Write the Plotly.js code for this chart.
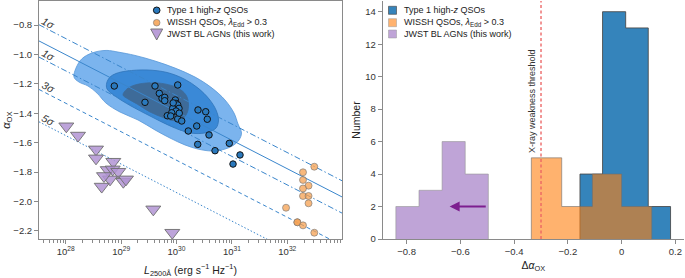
<!DOCTYPE html>
<html><head><meta charset="utf-8">
<script src="https://cdn.plot.ly/plotly-3.0.1.min.js"></script>
<style>html,body{margin:0;padding:0;background:#fff;}#chart{width:685px;height:278px;}</style>
</head><body><div id="chart"></div>
<script>
// ================= DATA =================
// Left panel: alpha_OX vs log L2500
const type1LogL = [28.877, 29.431, 29.612, 30.022, 29.690, 29.738, 29.787, 29.787, 29.978, 29.991, 29.960, 30.022, 30.045, 29.931, 29.991, 29.913, 29.834, 29.895, 30.022, 30.094, 30.388, 30.527, 30.556, 30.365, 30.213, 30.587, 30.383, 30.695, 30.953, 31.146, 31.020, 29.940, 30.050];
const type1Aox  = [-1.215, -1.326, -1.215, -1.208, -1.265, -1.299, -1.292, -1.315, -1.310, -1.333, -1.356, -1.344, -1.367, -1.367, -1.385, -1.397, -1.417, -1.419, -1.439, -1.453, -1.378, -1.390, -1.441, -1.487, -1.521, -1.548, -1.612, -1.655, -1.605, -1.684, -1.746, -1.330, -1.400];

const wisshLogL = [32.487, 32.283, 32.283, 32.383, 32.283, 32.283, 32.383, 32.383, 31.977, 32.181, 32.181, 32.283, 32.487];
const wisshAox  = [-1.764, -1.802, -1.854, -1.893, -1.912, -1.963, -1.963, -2.013, -2.043, -2.142, -2.142, -2.163, -2.213];

const jwstLogL = [28.011, 28.222, 28.547, 28.547, 28.859, 28.758, 28.848, 28.949, 28.800, 29.040, 29.088, 28.650, 29.581, 29.924, 28.691];
const jwstAox  = [-1.489, -1.552, -1.646, -1.707, -1.730, -1.786, -1.782, -1.798, -1.850, -1.866, -1.850, -1.899, -2.054, -2.213, -1.827];

// Density contours of the type 1 high-z QSO population (log L, alpha_OX)
const contourOuterLogL = [28.150, 28.222, 28.330, 28.529, 28.745, 28.944, 29.251, 29.612, 29.973, 30.334, 30.641, 30.875, 31.038, 31.110, 31.173, 31.128, 31.020, 30.875, 30.641, 30.388, 30.153, 29.883, 29.612, 29.305, 28.980, 28.727, 28.565, 28.403, 28.240];
const contourOuterAox  = [-1.154, -1.065, -1.018, -0.984, -0.973, -0.984, -1.007, -1.045, -1.093, -1.154, -1.229, -1.310, -1.399, -1.473, -1.535, -1.582, -1.620, -1.644, -1.657, -1.644, -1.616, -1.569, -1.514, -1.446, -1.392, -1.331, -1.263, -1.215, -1.188];
const contourMidLogL = [28.740, 28.800, 28.908, 29.106, 29.468, 29.829, 30.136, 30.388, 30.587, 30.713, 30.758, 30.713, 30.551, 30.334, 30.117, 29.846, 29.522, 29.179, 28.890, 28.746];
const contourMidAox  = [-1.195, -1.154, -1.130, -1.113, -1.106, -1.123, -1.167, -1.229, -1.303, -1.378, -1.446, -1.501, -1.531, -1.538, -1.521, -1.480, -1.419, -1.351, -1.283, -1.235];
const contourInnerLogL = [29.034, 29.106, 29.251, 29.522, 29.793, 30.027, 30.171, 30.217, 30.190, 30.094, 29.937, 29.756, 29.522, 29.287, 29.125];
const contourInnerAox  = [-1.276, -1.235, -1.208, -1.193, -1.201, -1.229, -1.276, -1.337, -1.399, -1.443, -1.450, -1.429, -1.392, -1.337, -1.303];

// alpha_OX - L2500 relation and its scatter
const relationSlope = -0.194;
const relationIntercept = 4.430;
const relationSigma = 0.11;
const sigmaLevels = [1, 0, -1, -3, -5];
const sigmaLabels = ['1σ', '', '1σ', '3σ', '5σ'];
const sigmaDashes = ['6px,2.5px,1.5px,2.5px', 'solid', '6px,2.5px,1.5px,2.5px', '4px,3px', '1.5px,2px'];

const logLTicks = [28, 29, 30, 31, 32];
const logLRange = [27.518, 32.987];
const aoxRange = [-2.2558, -0.6367];

// Right panel: histograms of Delta alpha_OX
const type1Edges  = [-0.155, -0.071, 0.015, 0.099, 0.182];
const type1Counts = [4, 14, 13, 2];
const wisshEdges  = [-0.336, -0.223, -0.109, 0.0, 0.112];
const wisshCounts = [5, 2, 4, 2];
const jwstEdges   = [-0.840, -0.754, -0.668, -0.582, -0.496];
const jwstCounts  = [2, 3, 6, 4];
const xrayWeakThreshold = -0.3;
const jwstLimitArrow = {from: -0.50, to: -0.64, level: 2};
const daoxRange = [-0.889, 0.232];
const numberRange = [0, 14.66];

const seriesNames = ['Type 1 high-<i>z</i> QSOs', 'WISSH QSOs, <i>λ</i><sub>Edd</sub> &gt; 0.3', 'JWST BL AGNs (this work)'];

// ================= STYLE =================
const FONT = '"Liberation Sans", Arial, Helvetica, sans-serif';
const L = 39, R = 1, T = 1, B = 39, W = 685, H = 278;
const PW = W - L - R, PH = H - T - B;
const px = v => (v - L) / PW;
const py = v => (H - B - v) / PH;
const pow10 = a => a.map(v => Math.pow(10, v));

function stepOutline(edges, counts) {
  const x = [edges[0]], y = [0];
  counts.forEach((c, i) => { x.push(edges[i], edges[i + 1]); y.push(c, c); });
  x.push(edges[edges.length - 1]); y.push(0);
  return {x, y};
}

const traces = [];
// contours
[[contourOuterLogL, contourOuterAox, '#7bb4ee', '#5797d8'],
 [contourMidLogL, contourMidAox, '#3a89d7', '#2e73b9'],
 [contourInnerLogL, contourInnerAox, '#3e6b99', '#3e6b99']].forEach(([lx, ay, fc, lc]) => {
  traces.push({type: 'scatter', mode: 'lines', x: pow10(lx.concat([lx[0]])), y: ay.concat([ay[0]]),
    fill: 'toself', fillcolor: fc, line: {color: lc, width: 0.8, shape: 'spline', smoothing: 1},
    hoverinfo: 'skip', showlegend: false, xaxis: 'x', yaxis: 'y'});
});
// relation lines
sigmaLevels.forEach((lev, i) => {
  const ys = logLRange.map(l => relationSlope * l + relationIntercept + lev * relationSigma);
  traces.push({type: 'scatter', mode: 'lines', x: pow10(logLRange), y: ys,
    line: {color: '#3a86cc', width: 1, dash: sigmaDashes[i]}, hoverinfo: 'skip', showlegend: false,
    xaxis: 'x', yaxis: 'y'});
});
// points
traces.push({type: 'scatter', mode: 'markers', name: seriesNames[0], x: pow10(type1LogL), y: type1Aox,
  marker: {symbol: 'circle', size: 6.5, color: '#2a79bd', line: {color: '#111', width: 1}}, xaxis: 'x', yaxis: 'y'});
traces.push({type: 'scatter', mode: 'markers', name: seriesNames[1], x: pow10(wisshLogL), y: wisshAox,
  marker: {symbol: 'circle', size: 7, color: 'rgba(245,160,80,0.75)', line: {color: 'rgba(120,120,120,0.8)', width: 0.8}}, xaxis: 'x', yaxis: 'y'});
traces.push({type: 'scatter', mode: 'markers', name: seriesNames[2], x: pow10(jwstLogL), y: jwstAox,
  marker: {symbol: 'triangle-down', size: 13, color: 'rgba(178,148,212,0.85)', line: {color: 'rgba(110,110,110,0.9)', width: 1}}, xaxis: 'x', yaxis: 'y'});

// histograms
[[type1Edges, type1Counts, 'rgba(31,119,180,0.9)', 'rgba(70,70,70,0.85)', seriesNames[0]],
 [wisshEdges, wisshCounts, 'rgba(255,127,14,0.6)', 'rgba(110,110,110,0.6)', seriesNames[1]],
 [jwstEdges, jwstCounts, 'rgba(148,103,189,0.6)', 'rgba(150,150,150,0.6)', seriesNames[2]]].forEach(([e, c, fc, lc, nm]) => {
  const s = stepOutline(e, c);
  traces.push({type: 'scatter', mode: 'lines', name: nm, x: s.x, y: s.y, fill: 'toself', fillcolor: fc,
    line: {color: lc, width: 1}, showlegend: false, xaxis: 'x2', yaxis: 'y2'});
});

const axCommon = {showline: true, linecolor: '#8a8a8a', linewidth: 1, ticks: 'outside', ticklen: 4, tickwidth: 1,
  tickcolor: '#8a8a8a', showgrid: false, zeroline: false, tickfont: {size: 9.5, color: '#333', family: FONT}};

const minorVals = [];
for (let d = 27; d <= 32; d++) for (let m = 2; m <= 9; m++) minorVals.push(m * Math.pow(10, d));

const annotations = [];
// sigma labels
sigmaLevels.forEach((lev, i) => {
  if (!sigmaLabels[i]) return;
  const lx = 27.69;
  annotations.push({xref: 'x', yref: 'y', x: lx, y: relationSlope * lx + relationIntercept + lev * relationSigma,
    text: '<i>' + sigmaLabels[i] + '</i>', showarrow: false, textangle: 27.6, yshift: 7,
    font: {size: 10.5, color: '#333', family: FONT}});
});
// legend texts (left and right)
const legRows = [10.3, 22.7, 34];
seriesNames.forEach((nm, i) => {
  annotations.push({xref: 'paper', yref: 'paper', x: px(165), y: py(legRows[i]), xanchor: 'left', yanchor: 'middle',
    text: nm, showarrow: false, font: {size: 9, color: '#222', family: FONT}});
  annotations.push({xref: 'paper', yref: 'paper', x: px(402), y: py(legRows[i]), xanchor: 'left', yanchor: 'middle',
    text: nm, showarrow: false, font: {size: 9, color: '#222', family: FONT}});
});
// threshold label
annotations.push({xref: 'x2', yref: 'y2', x: xrayWeakThreshold, y: 8.5, text: 'X-ray weakness threshold',
  textangle: -90, xshift: -9, showarrow: false, font: {size: 9, color: '#333', family: FONT}});
// upper-limit arrow
annotations.push({xref: 'x2', yref: 'y2', axref: 'x2', ayref: 'y2', x: jwstLimitArrow.to, y: jwstLimitArrow.level,
  ax: jwstLimitArrow.from, ay: jwstLimitArrow.level, text: '', showarrow: true, arrowhead: 2, arrowsize: 1,
  arrowwidth: 2, arrowcolor: '#7d1e8f'});

const shapes = [];
// threshold line
shapes.push({type: 'line', xref: 'x2', yref: 'y2 domain', x0: xrayWeakThreshold, x1: xrayWeakThreshold, y0: 0, y1: 1,
  line: {color: 'rgba(235,100,100,0.9)', width: 1.5, dash: '3px,2.5px'}});
// left legend symbols
const legSym = (yrow) => ({xref: 'paper', yref: 'paper', xsizemode: 'pixel', ysizemode: 'pixel', xanchor: px(156.7), yanchor: py(yrow)});
shapes.push(Object.assign(legSym(legRows[0]), {type: 'circle', x0: -3.3, x1: 3.3, y0: -3.3, y1: 3.3, fillcolor: '#2a79bd', line: {color: '#111', width: 1}}));
shapes.push(Object.assign(legSym(legRows[1]), {type: 'circle', x0: -3.3, x1: 3.3, y0: -3.3, y1: 3.3, fillcolor: 'rgba(245,160,80,0.85)', line: {color: 'rgba(120,120,120,0.8)', width: 0.8}}));
shapes.push(Object.assign(legSym(legRows[2]), {type: 'path', path: 'M-6,5 L6,5 L0,-6 Z', fillcolor: 'rgba(178,148,212,0.9)', line: {color: 'rgba(110,110,110,0.9)', width: 1}}));
// right legend patches
const patchCols = [['rgba(31,119,180,0.9)', 'rgba(70,70,70,0.8)'], ['rgba(255,127,14,0.6)', 'rgba(150,150,150,0.6)'], ['rgba(148,103,189,0.6)', 'rgba(150,150,150,0.6)']];
legRows.forEach((yr, i) => {
  shapes.push({type: 'rect', xref: 'paper', yref: 'paper', xsizemode: 'pixel', ysizemode: 'pixel', xanchor: px(392.5), yanchor: py(yr),
    x0: -4, x1: 4, y0: -4, y1: 4, fillcolor: patchCols[i][0], line: {color: patchCols[i][1], width: 0.8}});
});

const layout = {
  width: W, height: H, margin: {l: L, r: R, t: T, b: B}, paper_bgcolor: '#fff', plot_bgcolor: '#fff',
  showlegend: false, font: {family: FONT, size: 9.5, color: '#222'},
  xaxis: Object.assign({}, axCommon, {domain: [0, px(342)], type: 'log', range: logLRange, mirror: true,
    tickvals: pow10(logLTicks), ticktext: logLTicks.map(v => '10<sup>' + v + '</sup>'),
    minor: {tickvals: minorVals, ticks: 'outside', ticklen: 2.5, tickcolor: '#8a8a8a', showgrid: false},
    title: {text: '<i>L</i><sub>2500Å</sub> (erg s<sup>−1</sup> Hz<sup>−1</sup>)', standoff: 11, font: {size: 10.5, color: '#222'}},
    anchor: 'y'}),
  yaxis: Object.assign({}, axCommon, {domain: [0, 1], range: aoxRange, mirror: true, dtick: 0.2, tick0: -0.8, tickformat: '.1f',
    title: {text: '<i>α</i><sub>OX</sub>', standoff: 6, font: {size: 11, color: '#222'}}, anchor: 'x'}),
  xaxis2: Object.assign({}, axCommon, {domain: [px(382.7), 1], range: daoxRange, dtick: 0.2, tick0: 0,
    title: {text: 'Δ<i>α</i><sub>OX</sub>', standoff: 5, font: {size: 10.5, color: '#222'}}, anchor: 'y2'}),
  yaxis2: Object.assign({}, axCommon, {domain: [0, 1], range: numberRange, dtick: 2, automargin: true,
    title: {text: 'Number', standoff: 2, font: {size: 10.5, color: '#222'}}, anchor: 'x2'}),
  annotations, shapes
};

Plotly.newPlot('chart', traces, layout, {displayModeBar: false, staticPlot: true});
</script></body></html>
